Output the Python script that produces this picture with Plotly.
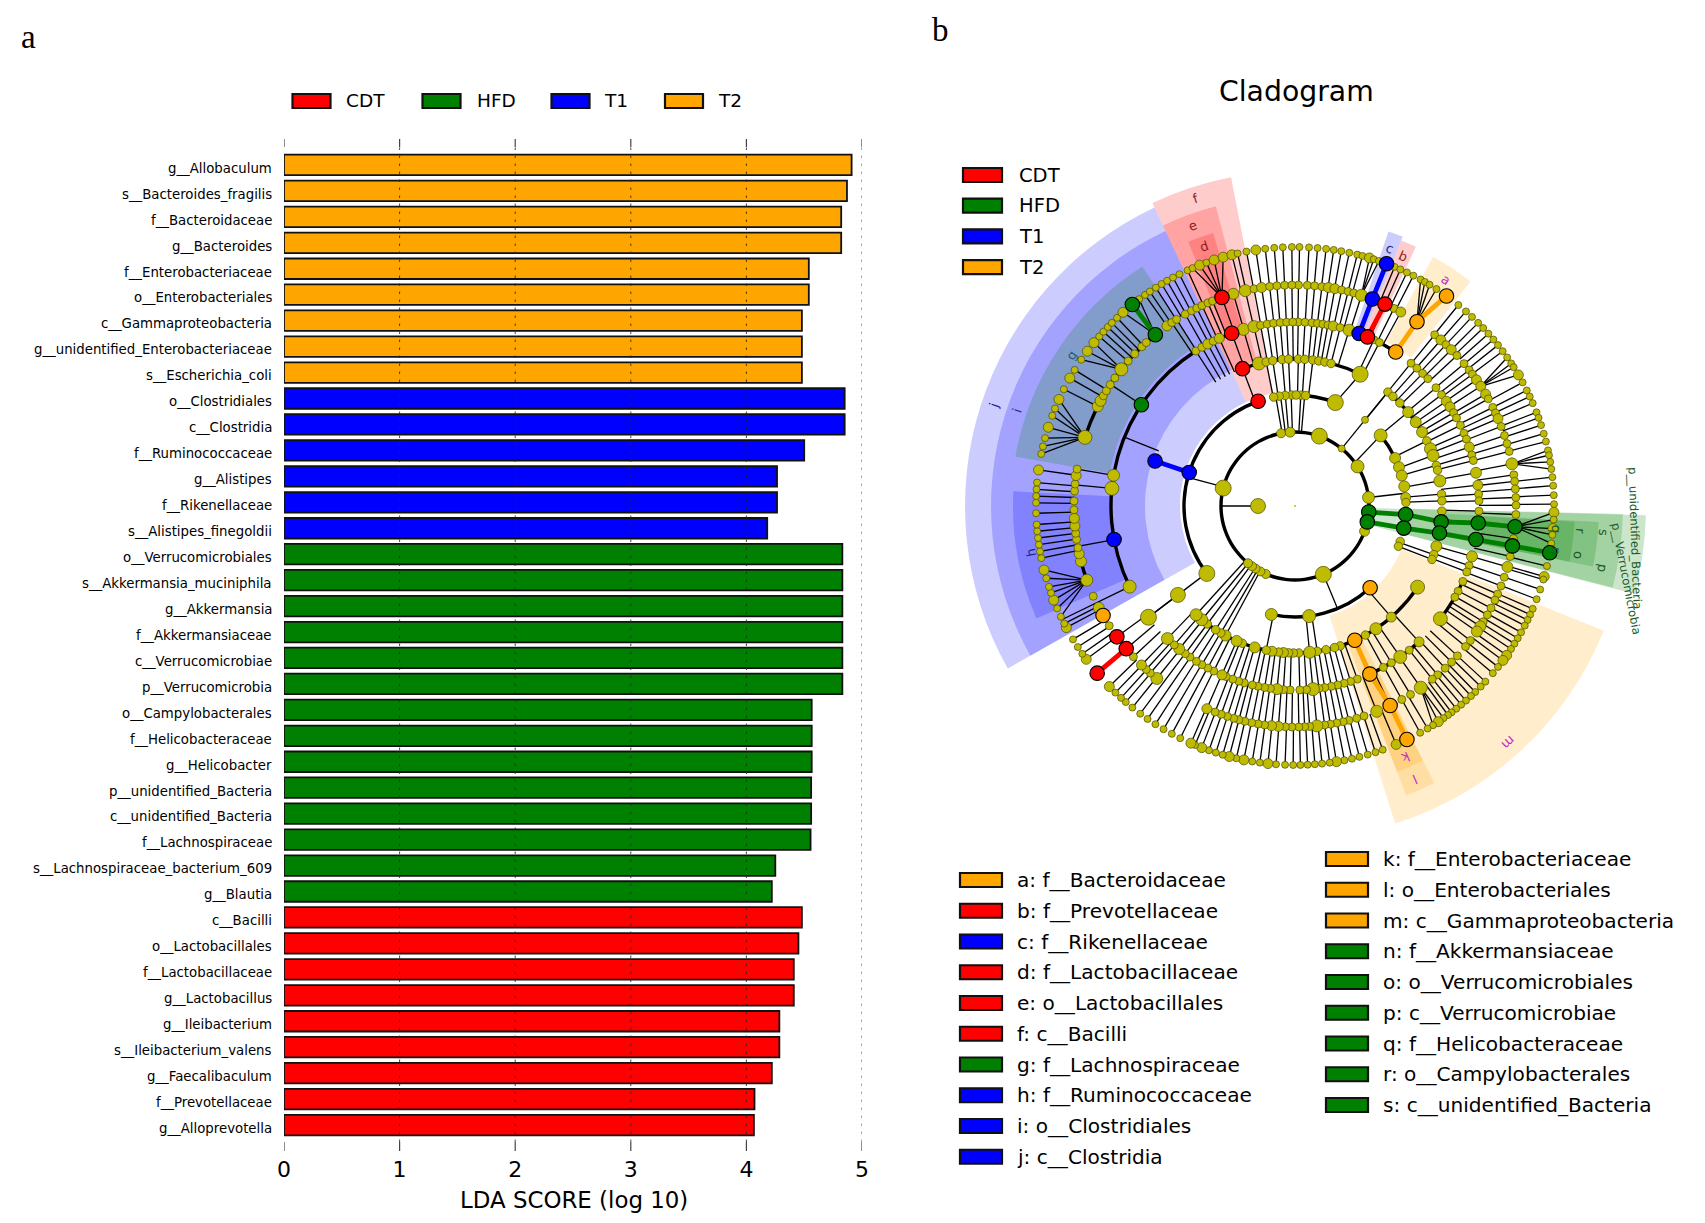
import math
import plotly.graph_objects as go

W, H = 1705, 1223

# ---------- panel a data ----------
bar_names = ["g__Allobaculum","s__Bacteroides_fragilis","f__Bacteroidaceae","g__Bacteroides","f__Enterobacteriaceae",
 "o__Enterobacteriales","c__Gammaproteobacteria","g__unidentified_Enterobacteriaceae","s__Escherichia_coli",
 "o__Clostridiales","c__Clostridia","f__Ruminococcaceae","g__Alistipes","f__Rikenellaceae","s__Alistipes_finegoldii",
 "o__Verrucomicrobiales","s__Akkermansia_muciniphila","g__Akkermansia","f__Akkermansiaceae","c__Verrucomicrobiae",
 "p__Verrucomicrobia","o__Campylobacterales","f__Helicobacteraceae","g__Helicobacter","p__unidentified_Bacteria",
 "c__unidentified_Bacteria","f__Lachnospiraceae","s__Lachnospiraceae_bacterium_609","g__Blautia","c__Bacilli",
 "o__Lactobacillales","f__Lactobacillaceae","g__Lactobacillus","g__Ileibacterium","s__Ileibacterium_valens",
 "g__Faecalibaculum","f__Prevotellaceae","g__Alloprevotella"]
bar_values = [4.91,4.87,4.82,4.82,4.54,4.54,4.48,4.48,4.48,4.85,4.85,4.50,4.265,4.265,4.18,
 4.83,4.83,4.83,4.83,4.83,4.83,4.565,4.565,4.565,4.56,4.56,4.555,4.25,4.22,4.48,4.45,4.41,4.41,
 4.285,4.285,4.22,4.07,4.065]
bar_groups = ["T2"]*9 + ["T1"]*6 + ["HFD"]*14 + ["CDT"]*9
group_names = ["CDT","HFD","T1","T2"]
group_colors = {"CDT":"#FF0000","HFD":"#008000","T1":"#0000FF","T2":"#FFA500"}
x_ticks = [0, 1, 2, 3, 4, 5]

# ---------- panel b data: angle (deg) of each node on each ring ----------
ring_radius = {1:37, 2:74, 3:111, 4:147, 5:184, 6:221, 7:259}
species_theta = [89,86.9,85,83.1,81.4,79.7,77.9,76.1,74.9,73.3,72.3,71.1,67.4,66,64.4,62.8,61,59.9,58.7,56.9,
 50.9,48.7,46.9,45,43.4,41.7,40,38.4,36.7,35,33.4,32.4,30.4,28.5,26.5,25,23.4,21.2,19.9,18.2,16.2,14.4,12.4,11.3,9.8,8.2,6.4,4.5,2.4,0.4,
 -1.4,-3,-5,-6.4,-8.3,-13.4,-15.8,-16.5,-18.8,-21.1,-23.4,-24.8,-26.1,-27.5,-29.2,-30.7,-32.1,-33.5,-35.2,-36.6,-38.4,-40.2,-42.7,-44.2,-45.9,-47.2,-48.7,-50.1,-51.5,-52.8,-53.8,-55,-56.4,-57.8,-59.2,-61.1,-67,-70.2,-71.9,-73.7,-75.6,-77.3,-79,-80.8,-82.3,-84,-85.6,-87.2,-88.8,
 -90.4,-92.2,-94.2,-96,-97.8,-99.5,-101.4,-103.1,-104.7,-106.2,-107.8,-109.4,-111.1,-112.7,-113.7,-116.3,-118.4,-120.5,-122.6,-124.7,-126.7,-128.9,-130.8,-132.2,-133.9,-135.8,
 -143.7,-145.2,-147,-149,-152,-153,-154.7,-156.7,-158.7,-160.4,-161.8,-163.8,-165.7,-168.4,-169.9,-171.4,-172.9,-174.4,-175.9,-178.4,
 179.3,177.8,176.3,174.8,172,168.4,166.7,164.8,162.3,159.6,157.9,155.7,153.2,150.4,148.3,145.6,143.3,140.9,139.1,137.7,136.3,135,133.4,131.6,127,125.4,124.1,122.5,121,119.6,118.1,116.5,114.5,113.3,111.6,110,108.2,106.1,104.1,102.8,100.8,98.7,96.6,94.6,92.7,90.7]
species_big = [73.3,30.4,-1.4,-5,-15.8,-35.2,-36.6,-56.4,-67,-80.8,-96,-101.4,-104.7,-111.1,-113.7,-135.8,-143.7,-152,-158.7,-165.7,172,162.3,155.7,150.4,143.3,140.9,131.6,111.6,108.2,106.1,104.1,98.7]
genus_theta = [89.1,86.8,84.9,83,81.3,79.6,77.8,76.1,74.6,72.5,63.4,61.4,50.8,48.7,46.9,45,42.9,40.1,38,36.6,34.8,32.8,30.4,29,26.5,24.9,23.3,21.1,18.6,16.4,14.3,11,8.1,6.4,4.4,2.2,0.2,
 -2.2,-8.5,-13.2,-16,-18.8,-21.2,-23.5,-25.2,-27.5,-29.5,-31.6,-33,-34.6,-37.5,-39.5,-42.7,-44.9,-47.2,-49.8,-51.6,-55.3,-58.5,-61.1,-68.3,-71.8,-73.8,-75.9,-77.4,-79.1,-80.8,-82.3,-84.3,-86.2,-87.5,-89,
 -90.8,-92.5,-94.3,-96.1,-97.9,-99.6,-101.3,-103.1,-104.7,-106.1,-107.8,-109.5,-111.2,-113.5,-128.7,-130.9,-132.3,-134,-137,-147.2,-152.6,-155.9,-160.4,-165.5,-167.5,-169.1,-171.3,-172.9,-174.8,-176.8,-179,
 178.7,176.1,174.3,172.1,170.4,161.9,153.2,151.6,150.1,148.6,146.7,144.6,141.8,139,136.5,133.9,132.3,125.4,123.9,122.4,119.8,117.9,116.4,114.9,113.2,111.9,106.2,103,100.7,98.7,96.6,94.7,92.7,90.8]
genus_big = {72.5:12,81.3:10,79.6:10,61.4:10,48.7:10,45:10,34.8:10,32.8:10,30.4:10,23.3:10,11:12,-16:11,-33:11,-34.6:11,-55.3:13,-68.3:12,-84.3:12,-94.3:10,-96.1:10,-113.5:10,-128.7:12,-134:10,-152.6:11,-160.4:12,-165.5:11,-167.5:10,-174.8:10,-176.8:10,172.1:10,161.9:14,153.2:11,151.6:11,141.8:13,125.4:10,106.2:11,103:12,98.7:10}
family_theta = [89,86.9,84.7,83,81.3,79.7,78,75.8,72.9,64.6,62.7,50.9,48.5,46.1,43.8,40,37.2,34.7,32.6,30.5,28.6,26,23.3,21.3,18.7,16.1,14.3,10.4,6.5,3.7,1.6,
 -1.6,-15.9,-18.9,-21,-24.2,-27.6,-29.7,-37.8,-47.6,-51.6,-55.1,-58.4,-61.3,-70.2,-72.4,-74.5,-76.6,-78.6,-80.7,-82.5,-84.4,-86.4,-88.5,
 -91.5,-93.6,-95.6,-97.7,-99.5,-101.6,-103.4,-106,-107.8,-109.8,-112,-113.4,-116.2,-118.3,-120.4,-122.4,-124.8,-126.6,-129,-131,-133.9,-142.8,-154,
 174.5,170.4,122.6,120.4,118.3,116.4,114.3,106.3,102.9,100.8,98.7,96.7,94.6,92.6,90.7]
family_big = {72.9:12,78:10,34.7:10,32.6:10,18.7:10,10.4:11,6.5:10,-15.9:11,-37.8:14,-47.6:10,-55.1:13,-84.4:13,-95.6:11,-113.4:10,-129:11,-133.9:12,-142.8:16,-154:13,174.5:14,170.4:12,114.3:10,118.3:10,106.3:12,102.9:12}
order_theta = [88.7,86.2,83,80.7,78.3,75.8,63.7,50.8,48.2,44.5,39.7,34.8,30.2,26.3,22.9,20.1,16,14.1,9.8,4.6,2,-2,-15.9,-19.3,-21.3,-33.5,-49.1,-56.6,-61.4,-72.1,-74.4,-77.8,-81.3,-84.3,-88.5,
 -90.6,-92.5,-94.5,-96.4,-99,-101.3,-105.9,-111,-113.4,-118.2,-120.3,-122.7,-126.6,-129.3,-132.3,-142.8,104.2,101.3,98.7,95,92.5]
order_big = {63.7:16,39.7:11,34.8:11,30.2:11,22.9:12,20.1:12,9.8:12,-15.9:11,-33.5:14,-49.1:10,-56.6:12,-84.3:12,-94.5:10,-99:10,-105.9:11,-113.4:11,-118.2:11,-129.3:12,-132.3:12,-142.8:15,104.2:13}
class_theta = [91.7,95.1,98.2,101.1,87,84.5,89.4,68.7,50.9,39.5,25.6,20.5,15.9,10.2,4.4,1.8,-18.6,-21.3,-82.7,-102.3,-142.6]
class_big = {68.7:16,50.9:7,39.5:13,25.6:11,20.5:11,15.9:11,10.2:11,4.4:10,-82.7:13,-102.3:12,-142.6:16}
phylum_theta = [70.8,50.9,32.3,6.6,-20,-67.5,-113.2,-117.9,-122.3,-125.5,-129.4,166,100.8,93.8]
phylum_big = {70.8:16,50.9:7,32.3:13,6.6:12,-20:10,-67.5:16,166:16,93.8:10}
kingdom_theta = [180]

# highlighted nodes: ring level, angle, group
marked_levels = [2,2,3,3,4,4,5,5,6,6,7, 5,6,7, 5,6, 5,6,7, 3,4,5,6,7, 3,4,5,6, 6,6,6, 7, 5,6,7, 3,4,5]
marked_thetas = [-4.7,-12.4,-4.4,-11.5,-6.2,-10.6,-5.3,-10.5,-5.4,-10.4,-10.4, 69.6,69.5,69.3, 66.8,66, 56.8,56.5,54.2, -47.4,-66,-66,-64.5,-64.4, 109.4,110.9,110.1,109.3, -139.8,-143.7,-150.3, -139.8, 146.6,129.2,128.9, 162.4,162.2,-169.5]
marked_groups = ["HFD"]*11 + ["T1"]*3 + ["CDT"]*2 + ["T2"]*3 + ["T2"]*5 + ["CDT"]*4 + ["CDT","CDT","T2","CDT"] + ["HFD"]*3 + ["T1"]*3

# thick coloured branches: group, levels, angles
thick_groups = ["T1","CDT","T2","T2","HFD","HFD","T1","CDT","HFD"]
thick_levels = [[5,6,7],[5,6],[5,6,7],[4,5,6,7],[2,3,4,5,6],[2,3,4,5,6,7],[3,4],[6,7],[6,7]]
thick_angles = [[69.6,69.5,69.3],[66.8,66],[56.8,56.5,54.2],[-66,-66,-64.5,-64.4],[-4.7,-4.4,-6.2,-5.3,-5.4],[-12.4,-11.5,-10.6,-10.5,-10.4,-10.4],[162.4,162.2],[-139.8,-139.8],[129.2,128.9]]

# black arcs: ring level, start angle, end angle
arc_levels = [2,3,3,3,3,4,4,4,5,5,5,5,6,6]
arc_starts = [-180,109.4,68.7,25.6,-102.3,63.7,-132.3,30,122.6,56.8,-66,-37.8,130,-165.5]
arc_ends   = [180,217.4,101,39.5,-47.4,110.9,-33.5,50.8,206,122.6,-47.6,-24.2,161.9,-160.4]

# straight links from a genus to several species: parent angle, species angle range
fan_parent = [161.9,141.8,129.2,109.3,56.5,72.5,11,32.8,-55.3,-5.4,-160.4]
fan_lo = [155.7,140.9,127,106,54.2,71,8,30.3,-58,-8.4,-165.8]
fan_hi = [168.5,146,131.7,113.5,61.1,73.4,12.5,35.1,-55,-1.3,-154.6]

# other straight links: inner ring, outer ring, inner angle, outer angle
link_inner = [1,2,2,2,2,2,2,2,2,2,2,2,3,4,5,5,5,5,5,4]
link_outer = [2,3,3,3,3,3,3,3,3,3,3,4,4,5,6,6,6,6,7,5]
link_a     = [180,165,36,6.6,-67.5,100,97.5,95,92,87,85,50.9,68.7,158,146.6,170.4,174.5,-169.5,-154,-142.8]
link_b     = [180,165,39.5,6.6,-67.5,100,97.5,95,92,87,85,50.9,63.7,158,146.6,170.4,174.5,-169.5,-154,-142.8]

# nodes sitting on an arc, with no line going inward
free_nodes = {5:[170.4,174.5,146.6,-169.5,-154,56.8,-66,66.8,69.6]}
genus_no_line = [(-180,-147),(125,180)]
species_to_family = (-127,-114.5)
order_to_phylum = (-132.5,-118)

# highlighted sectors: group, start angle, end angle, inner radius, outer radius
sector_groups = ["HFD","HFD","HFD","HFD","HFD","HFD","HFD","HFD","T2","T2","T2","T2","CDT","T1","CDT","CDT","CDT","T1","T1","HFD","T1"]
sector_start  = [-8.5,-14.5,-8.5,-14.4,-8.5,-11.5,-8.5,-11.5,-72.5,-69,-69,52,65,68.2,101,104.8,106.7,115.2,115.2,122.5,177]
sector_end    = [-1.5,-8.5,-1.4,-8.5,-3,-8.5,-3.2,-8.5,-22,-63.3,-63.3,61,68.2,71.2,115.2,115.2,112,209.5,209.5,170,203.5]
sector_inner  = [74,74,115,115,150,150,188,188,115,150,188,188,188,188,115,150,188,115,150,188,184]
sector_outer  = [351,351,328,328,304,304,280,280,333,310,285,285,286,290,335,310,285,330,304,284,282]

# sector letters: letter, radius, angle, colour
letter_names = ["a","b","c","d","e","f","g","h","i","j","k","l","m","n","o","p","q","r","s"]
letter_r     = [272,272,274,275,298,323,270,268,294,317,274,298,319,265,288,314,262,286,310]
letter_theta = [56.4,66.5,69.8,109.4,110,108,146,-170,161,161.6,-66.3,-66.3,-48,-9.8,-9.8,-11.4,-5,-5,-5]
letter_color = ["#C42CC4","#8B2222","#22228B","#8B2222","#8B2222","#8B2222","#1F5F6F","#22228B","#22228B","#22228B","#C42CC4","#C42CC4","#C42CC4"] + ["#1A5A2A"]*6

legend_a = ["a: f__Bacteroidaceae","b: f__Prevotellaceae","c: f__Rikenellaceae","d: f__Lactobacillaceae","e: o__Lactobacillales","f: c__Bacilli","g: f__Lachnospiraceae","h: f__Ruminococcaceae","i: o__Clostridiales","j: c__Clostridia"]
legend_a_groups = ["T2","CDT","T1","CDT","CDT","CDT","HFD","T1","T1","T1"]
legend_b = ["k: f__Enterobacteriaceae","l: o__Enterobacteriales","m: c__Gammaproteobacteria","n: f__Akkermansiaceae","o: o__Verrucomicrobiales","p: c__Verrucomicrobiae","q: f__Helicobacteraceae","r: o__Campylobacterales","s: c__unidentified_Bacteria"]
legend_b_groups = ["T2","T2","T2","HFD","HFD","HFD","HFD","HFD","HFD"]
side_labels = ["p__unidentified_Bacteria","p__Verrucomicrobia"]

# ---------- page geometry (pixels) ----------
CX, CY, RMAX = 1295, 506, 372
PLOT_L, PLOT_R, PLOT_T, PLOT_B = 284, 862, 139, 1151
FONT = "DejaVu Sans"

def fx(p): return p / W
def fy(p): return 1 - p / H

fig = go.Figure()
shapes, ann = [], []

# ---------- bars ----------
for g in ["T2","T1","HFD","CDT"]:
    xs = [v if b == g else None for v, b in zip(bar_values, bar_groups)]
    fig.add_trace(go.Bar(x=xs, y=bar_names, orientation="h", width=0.79, name=g, showlegend=False,
                         marker=dict(color=group_colors[g], line=dict(color="#111111", width=1.8))))

def text(px, py, s, size, color="black", anchor="left", family=FONT, angle=0):
    ann.append(dict(x=fx(px), y=fy(py), xref="paper", yref="paper", text=s, showarrow=False, textangle=angle,
                    xanchor=anchor, yanchor="middle", font=dict(size=size, color=color, family=family)))

def swatch(x0, x1, y0, y1, color):
    shapes.append(dict(type="rect", xref="paper", yref="paper", x0=fx(x0), x1=fx(x1), y0=fy(y0), y1=fy(y1),
                       fillcolor=color, line=dict(color="#111111", width=2.2)))

for name in bar_names:
    ann.append(dict(x=fx(274), y=name, xref="paper", yref="y", text=name, showarrow=False, xanchor="right",
                    yanchor="middle", yshift=-3.3, font=dict(size=13.3, color="black", family=FONT)))

for tick in x_ticks:
    for y0, y1 in [(PLOT_T, PLOT_T + 8), (PLOT_B - 9, PLOT_B)]:
        shapes.append(dict(type="line", xref="x", yref="paper", x0=tick, x1=tick, y0=fy(y0), y1=fy(y1),
                           line=dict(color="#444444", width=1.2), layer="above"))
    if tick:
        shapes.append(dict(type="line", xref="x", yref="paper", x0=tick, x1=tick, y0=fy(PLOT_B - 9), y1=fy(PLOT_T + 8),
                           line=dict(color="rgba(40,40,40,0.85)", width=1, dash="2.5px,5.5px"), layer="above"))

text(574, 1200, "LDA SCORE (log 10)", 22.9, anchor="center")

# top legend of panel a
for g, sx, tx in zip(group_names, [292.5, 422.5, 551.5, 665], [344, 475, 602, 716]):
    swatch(sx, sx + 38, 94, 108, group_colors[g])
    text(tx, 101, g, 18.5)

text(19, 37, "a", 33, family="Liberation Serif")
text(930, 30, "b", 33, family="Liberation Serif")
text(1296, 92, "Cladogram", 28.3, anchor="center")

# cladogram group legend
for i, g in enumerate(group_names):
    y = 175 + 30.7 * i
    swatch(963, 1002, y - 7, y + 7, group_colors[g])
    text(1017, y, g, 19.5)

# lower legends
for i, (s, g) in enumerate(zip(legend_a, legend_a_groups)):
    y = 880 + 30.75 * i
    swatch(960, 1002, y - 7, y + 7, group_colors[g])
    text(1014.5, y, s, 20.1)
for i, (s, g) in enumerate(zip(legend_b, legend_b_groups)):
    y = 859 + 30.75 * i
    swatch(1326, 1368, y - 7, y + 7, group_colors[g])
    text(1381, y, s, 20.1)

# ---------- cladogram ----------
def rgba(g, a=0.2):
    c = group_colors[g]
    return "rgba(%d,%d,%d,%s)" % (int(c[1:3], 16), int(c[3:5], 16), int(c[5:7], 16), a)

fig.add_trace(go.Barpolar(
    theta=[(a + b) / 2 for a, b in zip(sector_start, sector_end)],
    width=[b - a for a, b in zip(sector_start, sector_end)],
    base=sector_inner, r=[o - i for o, i in zip(sector_outer, sector_inner)],
    marker=dict(color=[rgba(g) for g in sector_groups], line=dict(width=0)), showlegend=False))

level_theta = {1: kingdom_theta, 2: phylum_theta, 3: class_theta, 4: order_theta, 5: family_theta, 6: genus_theta, 7: species_theta}
all_theta = {k: list(v) for k, v in level_theta.items()}
for l, t in zip(marked_levels, marked_thetas):
    all_theta[l].append(t)

def gap(a, b): return abs((a - b + 180) % 360 - 180)

sr, st = [], []
def seg(r0, t0, r1, t1):
    sr.extend([r0, r1, None]); st.extend([t0, t1, None])

def near(t, level, tol): return any(gap(t, o) < tol for o in all_theta[level])

for t in all_theta[7]:
    hit = next((p for p, a, b in zip(fan_parent, fan_lo, fan_hi) if a <= t <= b), None)
    if hit is not None:
        seg(ring_radius[6], hit, ring_radius[7], t)
    elif species_to_family[0] < t < species_to_family[1]:
        seg(ring_radius[5], t, ring_radius[7], t)
    else:
        seg(ring_radius[6], t, ring_radius[7], t)
for t in all_theta[6]:
    if not any(a <= t <= b for a, b in genus_no_line):
        seg(ring_radius[5], t, ring_radius[6], t)
for t in all_theta[5]:
    if t not in free_nodes[5] and (near(t, 4, 2.5) or t > 60):
        seg(ring_radius[4], t, ring_radius[5], t)
for t in all_theta[4]:
    if order_to_phylum[0] < t < order_to_phylum[1]:
        seg(ring_radius[2], t, ring_radius[4], t)
    elif near(t, 3, 1.8):
        seg(ring_radius[3], t, ring_radius[4], t)
for a, b, ta, tb in zip(link_inner, link_outer, link_a, link_b):
    seg(ring_radius[a], ta, ring_radius[b], tb)
fig.add_trace(go.Scatterpolar(r=sr, theta=st, mode="lines", line=dict(color="black", width=1.3), showlegend=False))

# arcs
fig.add_trace(go.Barpolar(
    theta=[(a + b) / 2 for a, b in zip(arc_starts, arc_ends)],
    width=[min(b - a, 359.9) for a, b in zip(arc_starts, arc_ends)],
    base=[ring_radius[l] - 1.7 for l in arc_levels], r=[3.4] * len(arc_levels),
    marker=dict(color="black", line=dict(width=0)), showlegend=False))

# thick coloured branches
for g, ls, ts in zip(thick_groups, thick_levels, thick_angles):
    fig.add_trace(go.Scatterpolar(r=[ring_radius[l] for l in ls], theta=ts, mode="lines",
                                  line=dict(color=group_colors[g], width=4.8), showlegend=False))

# olive nodes
def node_trace(level, thetas, sizes):
    fig.add_trace(go.Scatterpolar(r=[ring_radius[level]] * len(thetas), theta=thetas, mode="markers", showlegend=False,
                                  marker=dict(color="#BFBB00", size=sizes, opacity=1, line=dict(color="#4A4A00", width=0.7))))

node_trace(7, species_theta, [10 if t in species_big else 7 for t in species_theta])
node_trace(6, genus_theta, [genus_big.get(t, 8) for t in genus_theta])
node_trace(5, family_theta, [family_big.get(t, 8) for t in family_theta])
node_trace(4, order_theta, [order_big.get(t, 8.5) for t in order_theta])
node_trace(3, class_theta, [class_big.get(t, 8.5) for t in class_theta])
node_trace(2, phylum_theta, [phylum_big.get(t, 9) for t in phylum_theta])
node_trace(1, kingdom_theta, [15])
fig.add_trace(go.Scatterpolar(r=[0], theta=[0], mode="markers", marker=dict(color="#BFBC00", size=2), showlegend=False))

# highlighted nodes
fig.add_trace(go.Scatterpolar(r=[ring_radius[l] for l in marked_levels], theta=marked_thetas, mode="markers", showlegend=False,
                              marker=dict(color=[group_colors[g] for g in marked_groups], size=14.5,
                                          line=dict(color="black", width=1.1))))

# sector letters
for s, r, t, c in zip(letter_names, letter_r, letter_theta, letter_color):
    a = math.radians(t)
    text(CX + r * math.cos(a), CY - r * math.sin(a), s, 13, color=c, anchor="center", angle=90 - t)
text(1635, 538, side_labels[0], 11.6, color="#1A5A2A", anchor="center", angle=88)
text(1626, 578, side_labels[1], 11.6, color="#1A5A2A", anchor="center", angle=79)

fig.update_layout(
    width=W, height=H, margin=dict(l=0, r=0, t=0, b=0, pad=0, autoexpand=False), paper_bgcolor="white", plot_bgcolor="white",
    barmode="overlay", showlegend=False, font=dict(family=FONT, color="black"),
    shapes=shapes, annotations=ann, hovermode=False,
    xaxis=dict(domain=[fx(PLOT_L), fx(PLOT_R)], anchor="y", range=[0, 5], tickmode="array", tickvals=x_ticks, automargin=False,
               showgrid=False, zeroline=False, showline=False, ticks="", tickfont=dict(size=22), ticklabelstandoff=3),
    yaxis=dict(domain=[fy(PLOT_B), fy(PLOT_T)], anchor="x", type="category", categoryorder="array", categoryarray=bar_names, automargin=False,
               range=[38.0, -1.0], showgrid=False, zeroline=False, showline=False, ticks="", showticklabels=False),
    polar=dict(domain=dict(x=[fx(CX - RMAX), fx(CX + RMAX)], y=[fy(CY + RMAX), fy(CY - RMAX)]),
               bgcolor="rgba(0,0,0,0)", barmode="overlay",
               radialaxis=dict(visible=False, range=[0, RMAX]),
               angularaxis=dict(visible=False, direction="counterclockwise", rotation=0)),
)

fig.write_html("out.html", config={"displayModeBar": False},
               post_script="document.body.style.margin='0';document.documentElement.style.overflow='hidden';")
